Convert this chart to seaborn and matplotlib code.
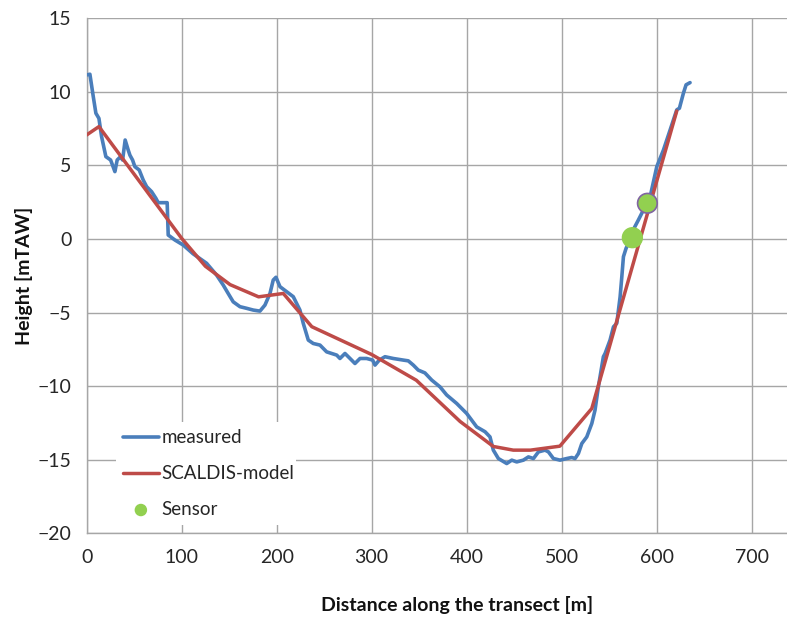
import matplotlib
matplotlib.use("Agg")
import matplotlib.pyplot as plt
import seaborn as sns
import pandas as pd

# Measured bed profile along the transect
measured_x = [0.6, 3.5, 7, 9.8, 13, 15.8, 20.3, 25.3, 28, 29.8, 32.2, 35.8, 37.9, 40.6,
              43.8, 45.6, 48.4, 50.8, 55.4, 59.6, 63.2, 68.4, 72.9, 75.4, 84.8, 85.9,
              93, 101.7, 112, 126.3, 136.8, 143.8, 149, 154.3, 161.4, 168.4, 175.4,
              182.4, 187.7, 193, 196.4, 199.3, 203.5, 210.5, 217.5, 224.5, 228, 233.3,
              238.5, 245.6, 252.6, 263.2, 266.6, 271.9, 277.2, 282.4, 287.7, 294.7,
              301, 303.5, 308, 314, 322.7, 333.3, 338.5, 343.8, 349, 356, 363.2,
              371.9, 378.9, 389.5, 400, 410.5, 419.3, 424.5, 428, 433.3, 442.1, 447.4,
              452.6, 459.6, 464.9, 470.2, 475.4, 482.4, 486, 491.2, 498.2, 505.3,
              510.5, 514, 517.5, 521.1, 526.3, 531.6, 535, 538.5, 543.8, 545.6,
              550.8, 554.4, 557.9, 561.4, 563.2, 564.9, 567.7, 570.2, 575, 580.6,
              587.7, 593, 600, 607, 614, 621, 623.8, 628, 630.8, 635]
measured_y = [11.16, 11.2, 9.7, 8.55, 8.2, 6.96, 5.6, 5.37, 4.9, 4.58, 5.37, 5.6, 5.37,
              6.73, 6.05, 5.7, 5.37, 4.92, 4.69, 4.01, 3.56, 3.22, 2.77, 2.47, 2.47,
              0.27, -0.07, -0.41, -1.0, -1.65, -2.45, -3.13, -3.7, -4.27, -4.6, -4.71,
              -4.83, -4.9, -4.49, -3.7, -2.79, -2.6, -3.24, -3.58, -3.92, -4.83, -5.73,
              -6.87, -7.1, -7.21, -7.67, -7.89, -8.12, -7.78, -8.12, -8.46, -8.12,
              -8.12, -8.23, -8.57, -8.23, -8.0, -8.12, -8.23, -8.28, -8.57, -8.91,
              -9.1, -9.59, -10.05, -10.6, -11.18, -11.86, -12.77, -13.1, -13.45,
              -14.35, -14.92, -15.26, -15.03, -15.15, -15.03, -14.81, -14.92, -14.47,
              -14.35, -14.47, -14.92, -15.03, -14.92, -14.85, -14.92, -14.58, -13.9,
              -13.45, -12.54, -11.63, -10.05, -8.0, -7.78, -6.87, -5.97, -5.73,
              -3.93, -2.56, -1.2, -0.63, -0.29, 0.6, 1.29, 2.2, 2.88, 4.92, 6.05,
              7.41, 8.78, 8.89, 9.91, 10.48, 10.63]

# SCALDIS model profile
model_x = [0, 13, 100, 125, 151, 181, 207, 237, 300, 347, 393, 428, 449, 467, 498,
           531.6, 621]
model_y = [7.07, 7.64, 0.05, -1.85, -3.1, -3.93, -3.7, -5.96, -7.85, -9.6, -12.4,
           -14.1, -14.35, -14.35, -14.08, -11.52, 8.7]

# Sensor positions
sensor_x = [574.3, 590.1]
sensor_y = [0.09, 2.43]

x_ticks = [0, 100, 200, 300, 400, 500, 600, 700]
y_ticks = [-20, -15, -10, -5, 0, 5, 10, 15]

BLUE = "#4A7EBB"
RED = "#BE4B48"
GREEN = "#92D050"
PURPLE = "#8064A2"
GRID = "#A6A6A6"

sns.set_style("white")
plt.rcParams["font.family"] = ["Lato", "DejaVu Sans"]

fig = plt.figure(figsize=(7.87, 6.19), dpi=100)
ax = fig.add_axes([0.110, 0.1385, 0.890, 0.8319])

df_meas = pd.DataFrame({"x": measured_x, "y": measured_y})
df_model = pd.DataFrame({"x": model_x, "y": model_y})
df_sens = pd.DataFrame({"x": sensor_x, "y": sensor_y})

sns.lineplot(data=df_meas, x="x", y="y", ax=ax, color=BLUE, linewidth=2.6,
             sort=False, estimator=None, label="measured", zorder=3)
sns.lineplot(data=df_model, x="x", y="y", ax=ax, color=RED, linewidth=2.5,
             sort=False, estimator=None, label="SCALDIS-model", zorder=4)
sns.scatterplot(data=df_sens, x="x", y="y", ax=ax, color=GREEN, s=200,
                edgecolor=[GREEN, PURPLE], linewidth=1.2, label="Sensor", zorder=5)

ax.set_xlim(0, 737)
ax.set_ylim(-20, 15)
ax.set_xticks(x_ticks)
ax.set_yticks(y_ticks)
ax.tick_params(axis="both", labelsize=14, colors="#262626", length=5,
               width=1, direction="out", color=GRID, pad=6)
ax.grid(True, color=GRID, linewidth=1)
ax.set_axisbelow(True)
for side in ["top", "right"]:
    ax.spines[side].set_visible(False)
for side in ["left", "bottom"]:
    ax.spines[side].set_color(GRID)
    ax.spines[side].set_linewidth(1)

ax.set_xlabel("Distance along the transect [m]", fontsize=14, fontweight="bold",
              color="#111111")
ax.set_ylabel("Height [mTAW]", fontsize=14, fontweight="bold", color="#111111")
ax.xaxis.set_label_coords(0.529, -0.122)
ax.yaxis.set_label_coords(-0.077, 0.5)

handles, labels = ax.get_legend_handles_labels()
leg = ax.legend(handles, labels, loc="lower left",
                bbox_to_anchor=(0.028, -0.003, 0.285, 0.208), mode="expand",
                frameon=True, fancybox=False, framealpha=1, edgecolor="white",
                fontsize=13.5, handlelength=1.9, handletextpad=0.15,
                labelspacing=1.0, borderpad=0.4, markerscale=0.55)
leg.get_frame().set_linewidth(0)

fig.savefig("out.png", dpi=100)
